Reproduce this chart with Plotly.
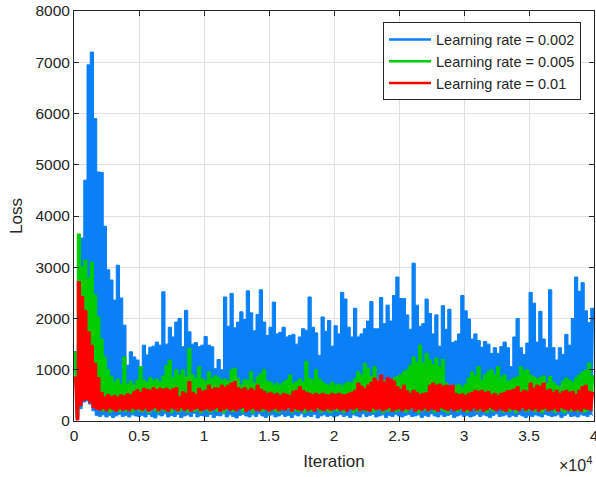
import numpy as np
import plotly.graph_objects as go

# Iteration grid: peak samples every 250 iterations, trough samples in between
step = 250
iter_hi = np.arange(0, 40001, step)          # 161 samples
iter_lo = np.arange(step // 2, 40000, step)  # 160 samples

series_names = ["Learning rate = 0.002", "Learning rate = 0.005", "Learning rate = 0.01"]
series_colors = ["#0a80f7", "#00cc00", "#ff0000"]

blue_hi = [
    1350, 1500, 3570, 4700, 6950, 7200, 5900, 4860, 4850, 3800, 2950, 2750, 2360, 3040, 2400, 1870, 1090, 1350, 1250, 1190,
    1000, 1480, 1290, 1440, 1460, 1540, 1480, 2520, 1500, 1830, 1640, 1930, 2000, 1450, 2160, 1740, 1500, 1530, 1450, 1480,
    1650, 1480, 1450, 1020, 1200, 1000, 2420, 1850, 2490, 1820, 1930, 2130, 1980, 2540, 2110, 1760, 2080, 2560, 1930, 1670,
    1830, 2320, 1700, 1730, 1830, 1640, 1670, 1690, 1500, 1640, 1800, 1770, 2420, 1830, 1720, 1280, 2030, 1750, 1960, 1460,
    1860, 1700, 2510, 2380, 1830, 1640, 2200, 1640, 1700, 1800, 1950, 2330, 1800, 1800, 2410, 1900, 2260, 1950, 2450, 2810,
    2390, 2390, 2070, 1790, 3080, 2260, 1850, 1900, 2380, 2100, 1700, 2070, 1460, 2250, 1790, 2180, 1530, 1560, 1700, 2450,
    2150, 1990, 1600, 1700, 1570, 1440, 1550, 1500, 1320, 1430, 1320, 1450, 1540, 1430, 1060, 1640, 2000, 1430, 1300, 1520,
    2510, 2300, 1540, 2140, 1600, 1430, 2560, 1430, 1190, 1430, 1300, 1690, 1480, 2000, 2810, 2530, 2700, 2150, 1920, 2200,
    1980,
]
blue_lo = [
    60, 240, 370, 390, 330, 200, 110, 90, 120, 80, 110, 70, 100, 130, 90, 110, 80, 120, 100, 90,
    110, 80, 130, 90, 60, 120, 100, 140, 80, 110, 90, 130, 70, 100, 120, 90, 150, 80, 110, 100,
    90, 130, 70, 110, 100, 140, 80, 120, 90, 60, 110, 130, 100, 80, 120, 90, 140, 100, 70, 110,
    120, 80, 100, 130, 90, 110, 70, 120, 100, 140, 80, 110, 90, 130, 60, 100, 120, 90, 110, 80,
    100, 130, 90, 110, 70, 120, 100, 80, 140, 90, 110, 130, 80, 100, 120, 70, 110, 90, 130, 100,
    80, 110, 130, 90, 100, 120, 70, 110, 90, 140, 100, 80, 120, 90, 110, 130, 70, 100, 120, 90,
    110, 80, 100, 130, 90, 120, 100, 70, 110, 140, 90, 100, 120, 80, 110, 90, 130, 100, 70, 110,
    90, 120, 100, 80, 130, 110, 90, 100, 120, 70, 110, 140, 90, 100, 80, 120, 110, 90, 130, 100,
]

green_hi = [
    1350, 3650, 3000, 3140, 2800, 3100, 2460, 2030, 1600, 1250, 1000, 870, 760, 820, 720, 1250, 720, 780, 700, 800,
    1060, 800, 760, 850, 790, 820, 760, 880, 1090, 1190, 850, 1000, 900, 1000, 860, 1420, 900, 840, 1060, 820,
    780, 960, 830, 880, 850, 800, 820, 780, 1000, 1030, 830, 700, 810, 790, 960, 740, 860, 920, 1000, 780,
    760, 700, 740, 700, 760, 800, 900, 735, 770, 820, 760, 1160, 830, 800, 1000, 820, 760, 720, 700, 760,
    700, 720, 680, 730, 760, 740, 830, 960, 900, 1120, 1030, 870, 1060, 800, 780, 790, 820, 800, 840, 865,
    900, 960, 1000, 1090, 1250, 1150, 1480, 1130, 1320, 1190, 1100, 1230, 1060, 1200, 740, 670, 700, 690, 720, 650,
    720, 840, 960, 880, 1060, 800, 900, 960, 1000, 900, 1060, 850, 900, 770, 800, 840, 860, 1060, 980, 1000,
    900, 860, 820, 850, 880, 740, 870, 760, 700, 670, 780, 840, 790, 760, 840, 900, 960, 990, 1130, 880,
    820,
]
green_lo = [
    100, 450, 480, 500, 450, 350, 250, 210, 190, 230, 170, 200, 220, 180, 240, 190, 210, 170, 230, 200,
    180, 220, 160, 240, 200, 170, 230, 190, 210, 160, 250, 180, 200, 220, 170, 240, 190, 210, 160, 230,
    200, 170, 240, 190, 220, 160, 210, 230, 180, 200, 250, 170, 190, 220, 160, 240, 200, 180, 230, 170,
    210, 190, 160, 230, 200, 250, 170, 210, 190, 220, 160, 240, 180, 200, 230, 170, 210, 190, 160, 220,
    190, 230, 170, 200, 240, 160, 210, 190, 220, 180, 250, 170, 200, 230, 160, 210, 190, 240, 180, 200,
    220, 170, 200, 240, 190, 160, 230, 210, 180, 250, 170, 200, 220, 190, 160, 240, 210, 180, 230, 190,
    170, 210, 240, 180, 200, 230, 160, 220, 190, 210, 250, 170, 200, 180, 230, 160, 210, 240, 190, 200,
    230, 180, 200, 160, 220, 190, 240, 170, 210, 200, 160, 230, 190, 220, 180, 250, 170, 200, 210, 190,
]

red_hi = [
    860, 2720, 2430, 2160, 1740, 1480, 1130, 850, 560, 470, 520, 480, 500, 470, 510, 490, 530, 510, 570, 610,
    560, 640, 620, 600, 650, 610, 640, 620, 640, 600, 630, 650, 475, 570, 540, 770, 560, 520, 640, 580,
    600, 700, 620, 650, 640, 700, 660, 700, 740, 770, 650, 620, 650, 600, 640, 600, 700, 620, 580, 540,
    560, 520, 540, 500, 540, 520, 500, 580, 600, 670, 600, 560, 540, 520, 540, 510, 540, 520, 510, 540,
    520, 540, 520, 510, 540, 560, 600, 740, 680, 640, 700, 760, 840, 780, 900, 760, 850, 820, 780, 670,
    620, 700, 590, 540, 600, 560, 520, 540, 550, 700, 740, 700, 720, 680, 700, 690, 700, 540, 510, 530,
    500, 540, 560, 600, 580, 600, 560, 580, 510, 540, 500, 540, 560, 590, 600, 620, 670, 560, 600, 580,
    740, 640, 700, 680, 740, 600, 620, 560, 600, 540, 580, 600, 560, 580, 520, 600, 670, 700, 580, 560,
    540,
]
red_lo = [
    20, 300, 400, 420, 360, 260, 230, 210, 240, 200, 250, 220, 190, 240, 210, 230, 200, 250, 220, 240,
    210, 250, 190, 230, 260, 200, 240, 220, 190, 250, 230, 200, 260, 210, 240, 190, 230, 250, 200, 220,
    240, 200, 230, 260, 190, 220, 250, 210, 230, 200, 240, 260, 190, 220, 250, 210, 200, 240, 230, 190,
    220, 250, 200, 230, 210, 260, 190, 240, 220, 200, 250, 210, 230, 190, 260, 220, 200, 240, 210, 230,
    250, 210, 230, 190, 240, 220, 260, 200, 230, 210, 190, 250, 220, 240, 200, 230, 260, 190, 220, 240,
    200, 240, 220, 260, 190, 230, 210, 250, 200, 240, 220, 190, 260, 230, 210, 240, 200, 220, 250, 190,
    230, 200, 250, 210, 240, 190, 220, 260, 230, 200, 240, 210, 190, 250, 220, 230, 200, 260, 210, 240,
    210, 240, 190, 230, 250, 200, 220, 240, 190, 260, 230, 210, 240, 200, 220, 190, 250, 230, 210, 220,
]

x_tick_vals = [0, 5000, 10000, 15000, 20000, 25000, 30000, 35000, 40000]
x_tick_text = ["0", "0.5", "1", "1.5", "2", "2.5", "3", "3.5", "4"]
y_tick_vals = [0, 1000, 2000, 3000, 4000, 5000, 6000, 7000, 8000]

fig = go.Figure()
all_series = [(blue_hi, blue_lo), (green_hi, green_lo), (red_hi, red_lo)]
for (hi, lo), name, col in zip(all_series, series_names, series_colors):
    # lower edge of the noisy band
    fig.add_trace(go.Scatter(x=iter_lo, y=lo, mode="lines", line=dict(color=col, width=1, shape="hv"),
                             showlegend=False, hoverinfo="skip"))
    # upper edge, filled down to the lower edge
    fig.add_trace(go.Scatter(x=iter_hi, y=hi, mode="lines", line=dict(color=col, width=1, shape="hv"),
                             fill="tonexty", fillcolor=col, showlegend=False, hoverinfo="skip",
                             name=name))
# legend entries
for name, col in zip(series_names, series_colors):
    fig.add_trace(go.Scatter(x=[None], y=[None], mode="lines", name=name,
                             line=dict(color=col, width=2.5)))

font_family = "Liberation Sans, Arial, sans-serif"
axis_common = dict(showline=True, linecolor="#262626", linewidth=1, mirror="ticks",
                   ticks="inside", ticklen=5, tickcolor="#262626",
                   showgrid=True, gridcolor="#e0e0e0", gridwidth=1, zeroline=False,
                   ticklabeloverflow="allow", automargin=False,
                   tickfont=dict(family=font_family, size=15.5, color="#262626"))

fig.update_layout(
    width=596, height=477,
    margin=dict(l=74, r=2, t=11, b=56, autoexpand=False),
    paper_bgcolor="white", plot_bgcolor="white",
    font=dict(family=font_family, color="#262626"),
    xaxis=dict(range=[0, 40000], tickvals=x_tick_vals, ticktext=x_tick_text,
               title=dict(text="Iteration", font=dict(size=17, color="#262626"), standoff=12),
               **axis_common),
    yaxis=dict(range=[0, 8000], tickvals=y_tick_vals,
               title=dict(text="Loss", font=dict(size=17, color="#262626"), standoff=8),
               **axis_common),
    legend=dict(x=0.975, y=0.972, xanchor="right", yanchor="top",
                bgcolor="white", bordercolor="#262626", borderwidth=1,
                font=dict(family=font_family, size=14.5, color="#262626"),
                itemwidth=42, tracegroupgap=0, traceorder="normal"),
    annotations=[dict(text="×10<sup>4</sup>", xref="paper", yref="paper",
                      x=1.0, y=-0.105, xanchor="right", yanchor="middle",
                      showarrow=False, font=dict(family=font_family, size=16, color="#262626"))],
)

fig.write_html("out.html")
